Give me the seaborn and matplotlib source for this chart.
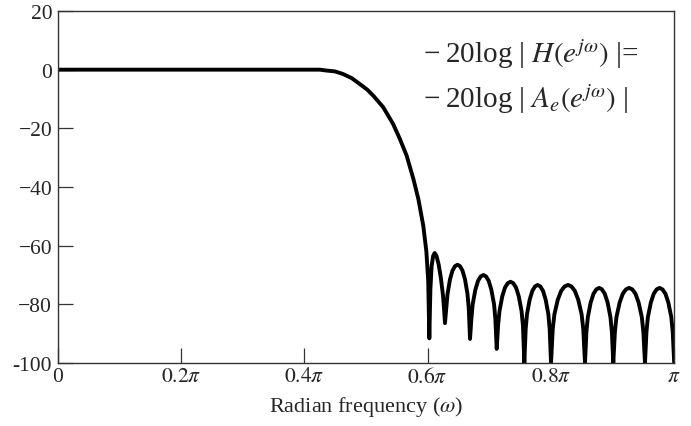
import numpy as np
import pandas as pd
import matplotlib
matplotlib.use("Agg")
import matplotlib.pyplot as plt
import seaborn as sns

# Frequency (in units of pi) and magnitude (dB)
omega_over_pi = [
    0.000, 0.200, 0.400, 0.425, 0.436, 0.450, 0.463, 0.477, 0.490, 0.502,
    0.512, 0.528, 0.544, 0.555, 0.566, 0.577, 0.585, 0.593, 0.598, 0.6010,
    0.6028,
    0.6045, 0.6065, 0.6090, 0.6115, 0.6145, 0.6180, 0.6215, 0.6250, 0.6268, 0.6282,
    0.6302, 0.6323, 0.6363, 0.6404, 0.6444, 0.6485, 0.6526, 0.6566, 0.6607, 0.6647, 0.6668, 0.6688,
    0.6710, 0.6731, 0.6775, 0.6818, 0.6861, 0.6905, 0.6948, 0.6991, 0.7034, 0.7078, 0.7099, 0.7121,
    0.7143, 0.7166, 0.7211, 0.7255, 0.7300, 0.7345, 0.7390, 0.7435, 0.7479, 0.7524, 0.7547, 0.7569,
    0.7591, 0.7612, 0.7656, 0.7699, 0.7742, 0.7786, 0.7829, 0.7872, 0.7915, 0.7959, 0.7980, 0.8002,
    0.8030, 0.8057, 0.8112, 0.8167, 0.8222, 0.8278, 0.8333, 0.8388, 0.8443, 0.8498, 0.8525, 0.8553,
    0.8576, 0.8599, 0.8645, 0.8691, 0.8737, 0.8783, 0.8828, 0.8874, 0.8920, 0.8966, 0.8989, 0.9012,
    0.9038, 0.9063, 0.9115, 0.9166, 0.9218, 0.9269, 0.9320, 0.9372, 0.9423, 0.9475, 0.9500, 0.9526,
    0.9550, 0.9573, 0.9621, 0.9668, 0.9716, 0.9763, 0.9810, 0.9858, 0.9905, 0.9953, 0.9976, 1.0000,
]
magnitude_db = [
    0.0, 0.0, 0.0, 0.0, -0.3, -0.6, -1.5, -2.9, -4.9, -6.8,
    -8.9, -12.8, -18.5, -23.6, -29.3, -37.3, -44.1, -53.2, -62.0, -72.0,
    -91.6,
    -75.0, -67.0, -63.5, -62.5, -63.5, -66.5, -71.0, -77.0, -82.0, -86.4,
    -81.5, -76.5, -71.5, -68.5, -67.0, -66.5, -67.0, -68.5, -71.5, -76.5, -81.5, -91.8,
    -85.0, -80.0, -75.0, -72.0, -70.5, -70.0, -70.5, -72.0, -75.0, -80.0, -85.0, -95.2,
    -87.3, -82.3, -77.3, -74.3, -72.8, -72.3, -72.8, -74.3, -77.3, -82.3, -87.3, -100.0,
    -88.4, -83.4, -78.4, -75.4, -73.9, -73.4, -73.9, -75.4, -78.4, -83.4, -88.4, -100.0,
    -88.4, -83.4, -78.4, -75.4, -73.9, -73.4, -73.9, -75.4, -78.4, -83.4, -88.4, -100.0,
    -89.4, -84.4, -79.4, -76.4, -74.9, -74.4, -74.9, -76.4, -79.4, -84.4, -89.4, -100.0,
    -89.4, -84.4, -79.4, -76.4, -74.9, -74.4, -74.9, -76.4, -79.4, -84.4, -89.4, -100.0,
    -89.4, -84.4, -79.4, -76.4, -74.9, -74.4, -74.9, -76.4, -79.4, -84.4, -89.4, -100.0,
]

x_tick_values = [0.0, 0.2, 0.4, 0.6, 0.8, 1.0]
x_tick_labels = ["0", r"$0.2\pi$", r"$0.4\pi$", r"$0.6\pi$", r"$0.8\pi$", r"$\pi$"]
y_tick_values = [-100, -80, -60, -40, -20, 0, 20]
y_tick_labels = ["-100", "\u221280", "\u221260", "\u221240", "\u221220", "0", "20"]

annotation_lines = [
    "\u2212\u200920log | $H(e^{j\\omega})$ |=",
    "\u2212\u200920log | $A_e(e^{j\\omega})$ |",
]
x_label = r"Radian frequency ($\omega$)"

sns.set_theme(style="ticks")
plt.rcParams["font.family"] = ["Liberation Serif", "DejaVu Serif"]
plt.rcParams["mathtext.fontset"] = "stix"

fig = plt.figure(figsize=(6.91, 4.27), dpi=100)
ax = fig.add_axes([57.7 / 691, (427 - 364) / 427, (674.2 - 57.7) / 691, (364 - 12) / 427])

df = pd.DataFrame({"omega": np.array(omega_over_pi) * np.pi, "db": magnitude_db})
sns.lineplot(data=df, x="omega", y="db", ax=ax, color="black", linewidth=2.8,
             sort=False, estimator=None, legend=False)

ax.set_xlim(0, np.pi)
ax.set_ylim(-100, 20)
ax.set_xticks(np.array(x_tick_values) * np.pi)
ax.set_xticklabels(x_tick_labels, fontsize=15.5)
ax.set_yticks(y_tick_values)
ax.set_yticklabels(y_tick_labels, fontsize=15.5)
ax.tick_params(direction="in", length=10.8, width=0.9, color="#333333",
               top=False, right=False)
ax.tick_params(axis="x", pad=3)
ax.tick_params(axis="y", pad=4)
for s in ax.spines.values():
    s.set_visible(True)
    s.set_linewidth(1.0)
    s.set_color("#333333")

ax.set_xlabel(x_label, fontsize=16, labelpad=5)
ax.set_ylabel("")

ax.text(0.5925 * np.pi, 2.6, annotation_lines[0], fontsize=21, va="baseline", ha="left")
ax.text(0.5925 * np.pi, -12.7, annotation_lines[1], fontsize=21, va="baseline", ha="left")

fig.savefig("out.png", dpi=100)
